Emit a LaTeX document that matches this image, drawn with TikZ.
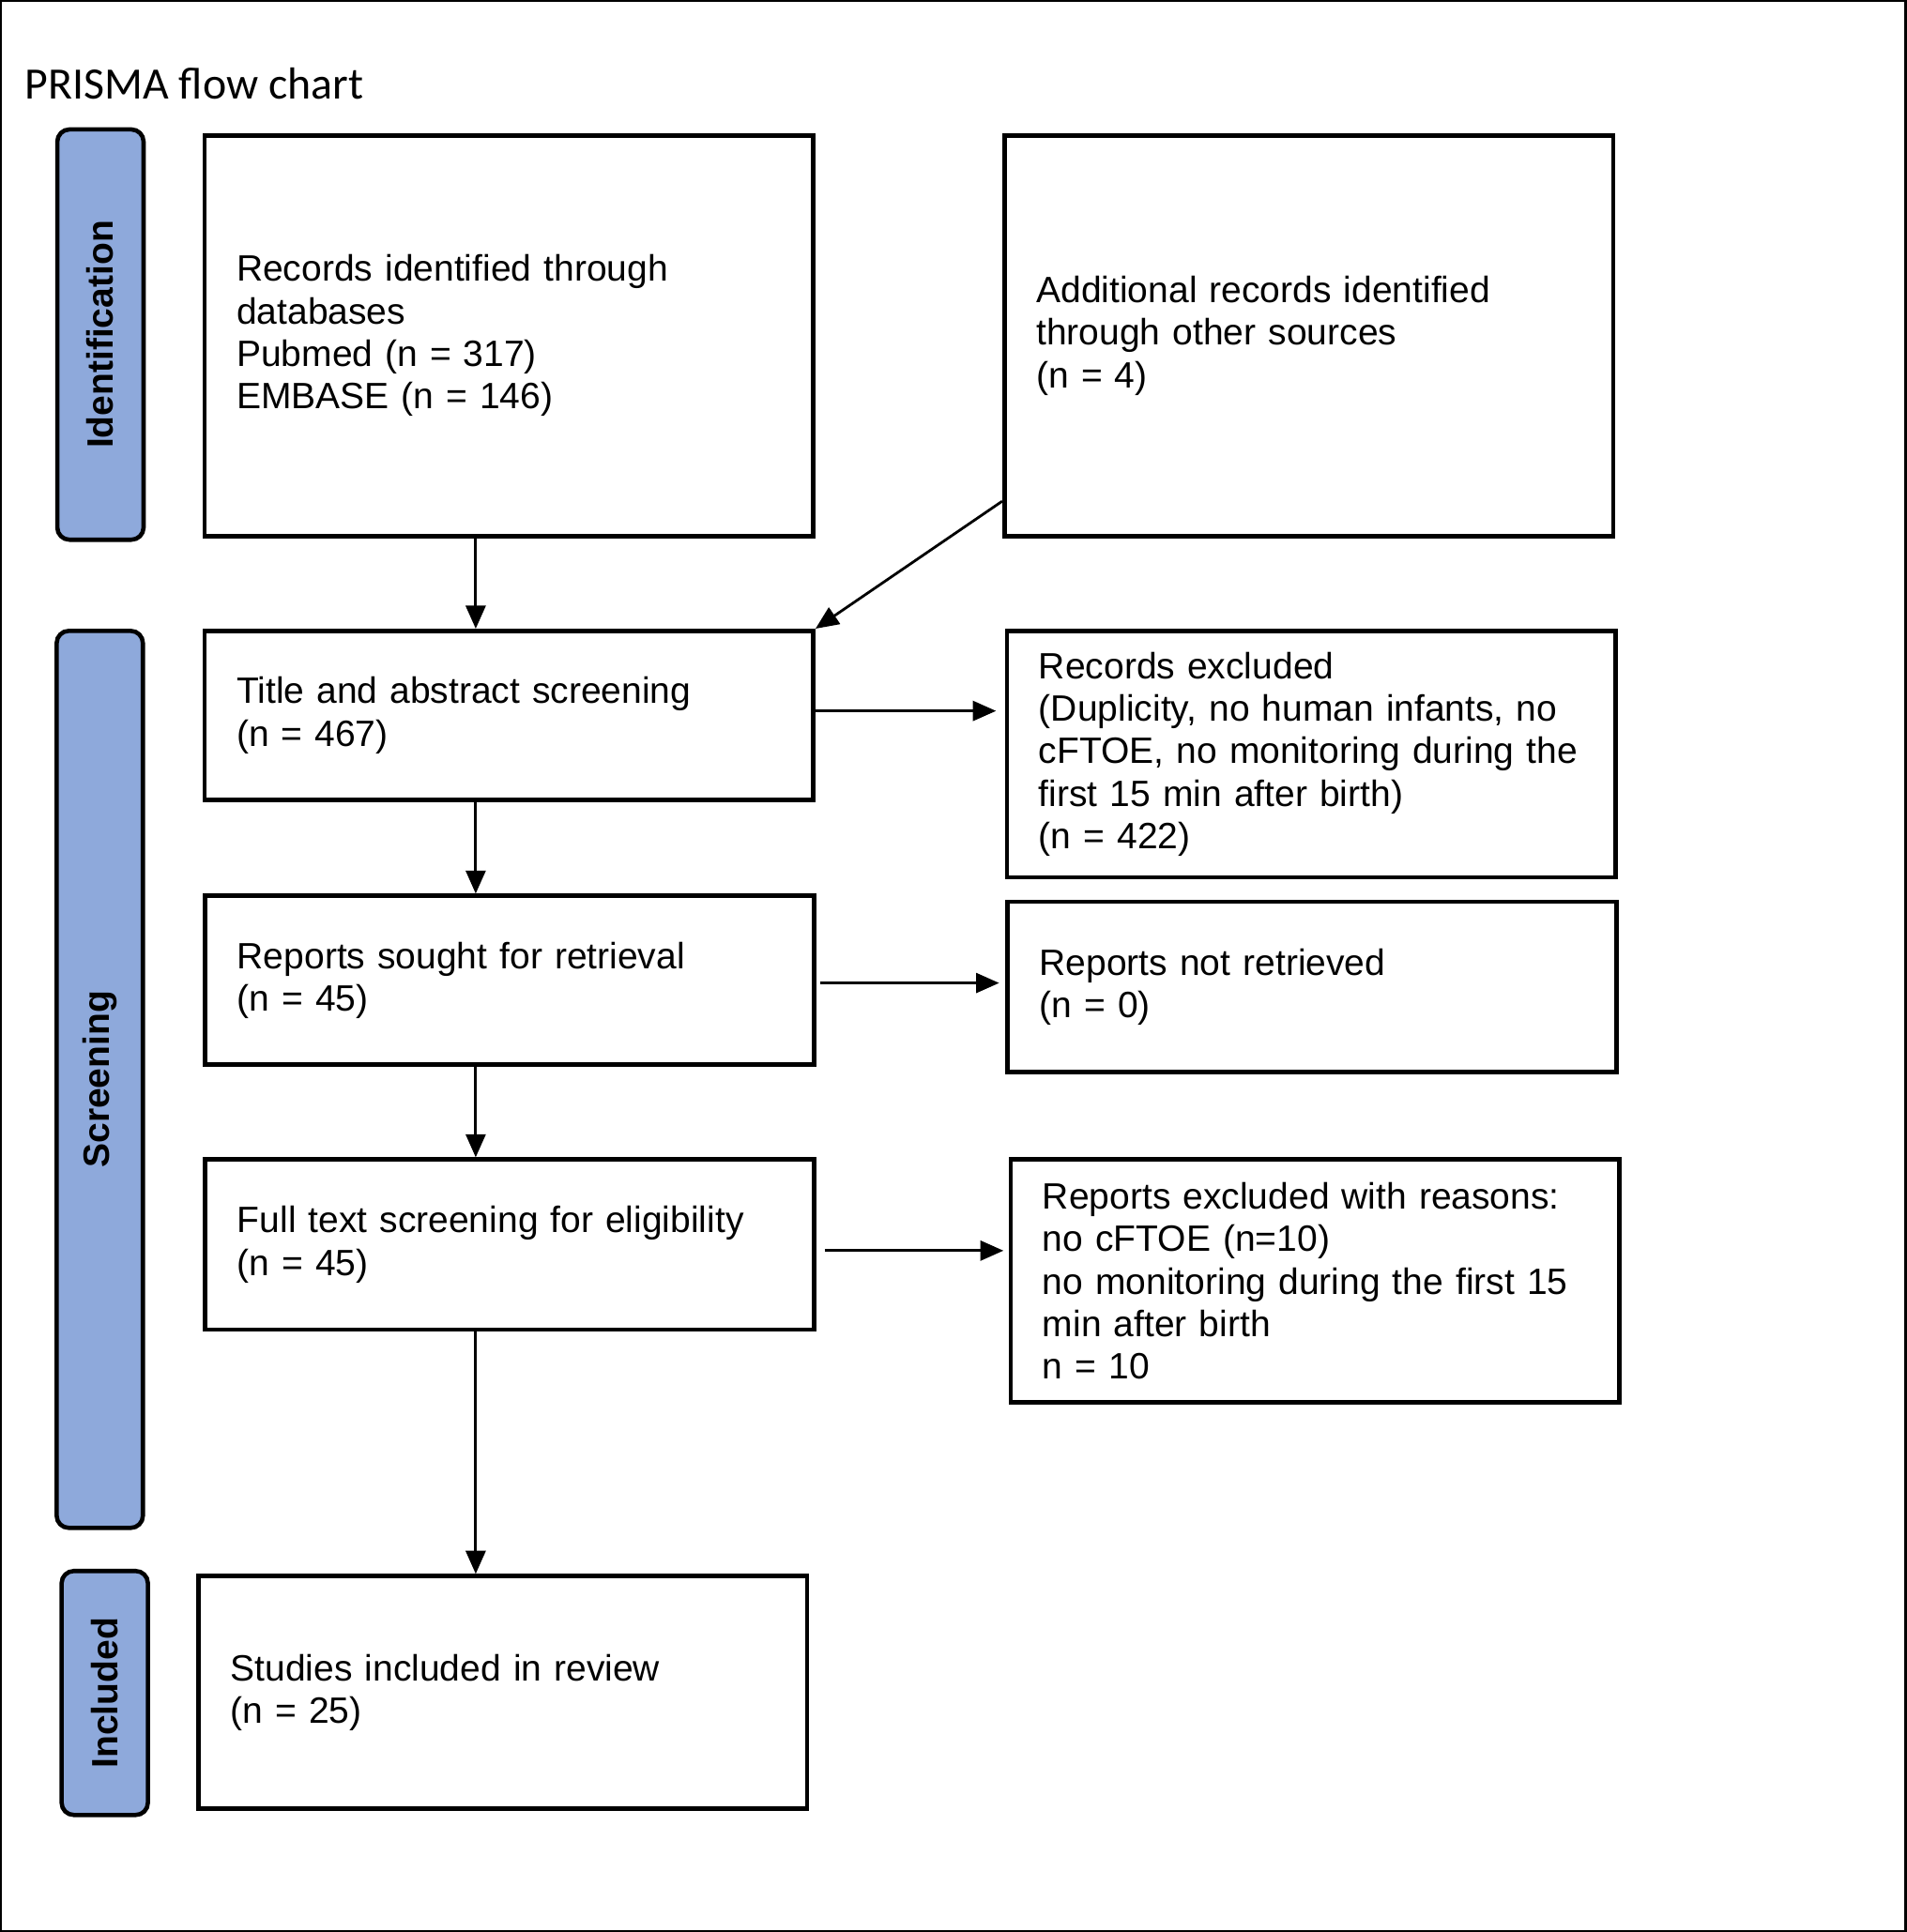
\documentclass[tikz,border=0pt]{standalone}
\usepackage{fontspec}
\setmainfont{Liberation Sans}
\newfontfamily\titlefont{Carlito}
\usetikzlibrary{positioning,arrows.meta,calc}
\definecolor{stageBlue}{HTML}{8EA9DB}

\tikzset{
  flowbox/.style={draw, line width=1.3pt, minimum width=6.486cm, text width=5.803cm,
    inner xsep=0.341cm, align=left, font=\fontsize{11.1}{12.9}\selectfont},
  stagebar/.style={draw, line width=1.3pt, fill=stageBlue, rounded corners=0.13cm,
    minimum height=0.919cm, rotate=90, font=\bfseries\fontsize{11.1}{12.9}\selectfont},
  flowarrow/.style={-{Triangle[length=7pt,width=6pt]}, line width=0.8pt}
}

\begin{document}
\begin{tikzpicture}
        \useasboundingbox (0,0) rectangle (20.31,-20.586);
        \draw[line width=0.8pt] (0.01,-0.01) rectangle (20.30,-20.576);
        \node[anchor=base west, font=\titlefont\fontsize{13.6}{16}\selectfont] (title) at (0.145,-1.050) {PRISMA flow chart};

        \node[stagebar, minimum width=4.372cm] (idBar) at (1.070,-3.565) {Identification};
        \node[stagebar, minimum width=9.558cm] (scrBar) at (1.063,-11.501) {Screening};
        \node[stagebar, minimum width=2.600cm] (incBar) at (1.116,-18.039) {Included};

        \node[flowbox, minimum height=4.267cm] (recIdent) at (5.422,-3.578) {Records identified through\\databases\\Pubmed (n = 317)\\EMBASE (n = 146)};
        \node[flowbox, minimum height=4.267cm] (recOther) at (13.943,-3.578) {Additional records identified\\through other sources\\(n = 4)};
        \node[flowbox, minimum height=1.799cm] (screenTA) at (5.422,-7.621) {Title and abstract screening\\(n = 467)};
        \node[flowbox, minimum height=2.626cm] (exclTA) at (13.969,-8.035) {Records excluded\\(Duplicity, no human infants, no\\cFTOE, no monitoring during the\\first 15 min after birth)\\(n = 422)};
        \node[flowbox, minimum height=1.799cm] (sought) at (5.429,-10.444) {Reports sought for retrieval\\(n = 45)};
        \node[flowbox, minimum height=1.812cm] (notRetr) at (13.976,-10.516) {Reports not retrieved\\(n = 0)};
        \node[flowbox, minimum height=1.812cm] (fullText) at (5.429,-13.260) {Full text screening for eligibility\\(n = 45)};
        \node[flowbox, minimum height=2.586cm] (exclFull) at (14.009,-13.648) {Reports excluded with reasons:\\no cFTOE (n=10)\\no monitoring during the first 15\\min after birth\\n = 10};
        \node[flowbox, minimum height=2.481cm] (included) at (5.357,-18.033) {Studies included in review\\(n = 25)};

        \coordinate (spine) at (5.068,0);
        \draw[flowarrow] (recIdent.south -| spine) -- (screenTA.north -| spine);
        \draw[flowarrow] ($(recOther.south west)+(0,0.394)$) -- (screenTA.north east);
        \draw[flowarrow] ($(screenTA.east)+(0,0.046)$) -- ($(exclTA.west |- screenTA.east)+(-0.092,0.046)$);
        \draw[flowarrow] (screenTA.south -| spine) -- (sought.north -| spine);
        \draw[flowarrow] ($(sought.east)+(0.04,-0.03)$) -- ($(notRetr.west |- sought.east)+(-0.066,-0.03)$);
        \draw[flowarrow] (sought.south -| spine) -- (fullText.north -| spine);
        \draw[flowarrow] ($(fullText.east)+(0.092,-0.066)$) -- ($(exclFull.west |- fullText.east)+(-0.053,-0.066)$);
        \draw[flowarrow] (fullText.south -| spine) -- (included.north -| spine);
      \end{tikzpicture}
\end{document}
